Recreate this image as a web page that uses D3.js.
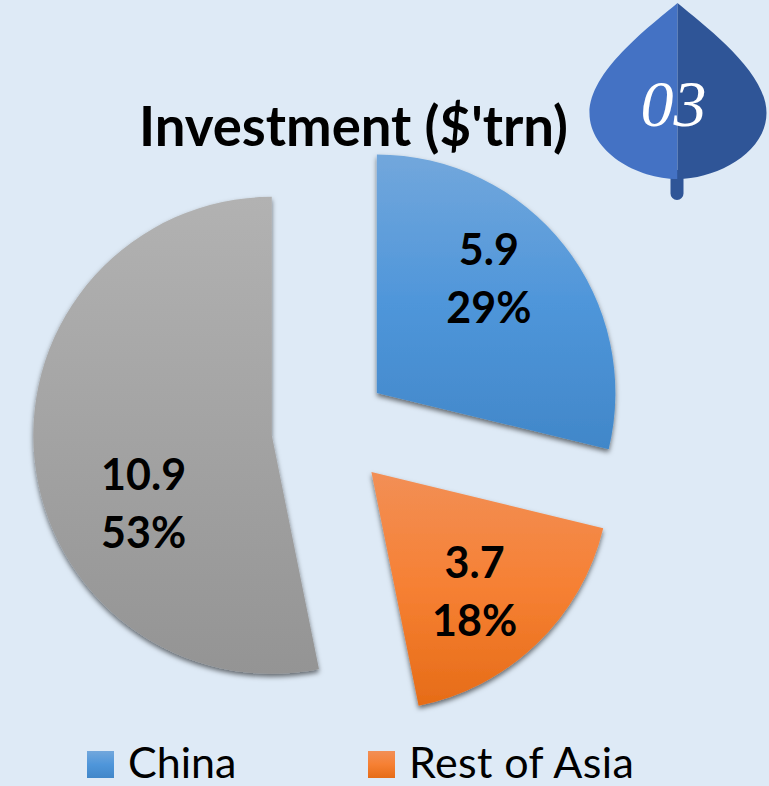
<!DOCTYPE html>
<html>
<head>
<meta charset="utf-8">
<script src="https://cdn.jsdelivr.net/npm/d3@7"></script>
<style>
    html, body { margin: 0; padding: 0; background: #deeaf6; }
    svg { display: block; }
    text { font-family: Lato, "Open Sans", sans-serif; fill: #000; }
</style>
</head>
<body>
<div id="chart"></div>
<script>
// Values
const categories = ["China", "Rest of Asia", "Other"];
const investment = [5.9, 3.7, 10.9];
const shares = ["29%", "18%", "53%"];
const legendCategories = ["China", "Rest of Asia"];
const chartTitle = "Investment ($'trn)";
const badgeLabel = "03";

const width = 769, height = 786;
const center = { x: 330.5, y: 429.5 };
const radius = 238.5;
const explode = 59;

// top, middle and bottom colour of each slice
const gradients = {
    "China": ["#72a7dc", "#4f96da", "#4187c9"],
    "Rest of Asia": ["#f28f56", "#f68033", "#e66c17"],
    "Other": ["#b2b2b2", "#a3a3a3", "#949494"]
};

// Labels don't sit exactly on the centroid in the original
const labelNudge = {
    "China": [-13, -15],
    "Rest of Asia": [-7, 6],
    "Other": [30, 54]
};

const svg = d3.select("#chart").append("svg")
    .attr("width", width)
    .attr("height", height);

const defs = svg.append("defs");

categories.forEach((name, i) => {
    const grad = defs.append("linearGradient")
        .attr("id", "grad" + i)
        .attr("x1", 0).attr("y1", 0)
        .attr("x2", 0).attr("y2", 1);
    gradients[name].forEach((c, j) => {
        grad.append("stop").attr("offset", j / 2).attr("stop-color", c);
    });
});

const shadow = defs.append("filter")
    .attr("id", "shadow")
    .attr("x", "-10%").attr("y", "-10%")
    .attr("width", "120%").attr("height", "120%");
shadow.append("feDropShadow")
    .attr("dx", 0)
    .attr("dy", 3)
    .attr("stdDeviation", 2.5)
    .attr("flood-color", "#000")
    .attr("flood-opacity", 0.55);

// Pie
const pie = d3.pie().sort(null).value((d, i) => investment[i]);
const arc = d3.arc().innerRadius(0).outerRadius(radius);
const labelArc = d3.arc().innerRadius(0).outerRadius(318);

const slices = svg.append("g")
    .attr("transform", `translate(${center.x},${center.y})`)
    .selectAll("g")
    .data(pie(categories))
    .enter()
    .append("g")
    .attr("transform", d => {
        const mid = (d.startAngle + d.endAngle) / 2;
        return `translate(${explode * Math.sin(mid)},${-explode * Math.cos(mid)})`;
    });

slices.append("path")
    .attr("d", arc)
    .attr("fill", (d, i) => `url(#grad${i})`)
    .attr("filter", "url(#shadow)");

// Two line data labels
const labels = slices.append("text")
    .attr("text-anchor", "middle")
    .attr("font-size", 43)
    .attr("font-weight", 700)
    .attr("transform", d => {
        const [x, y] = labelArc.centroid(d);
        const [nx, ny] = labelNudge[d.data];
        return `translate(${x + nx},${y + ny})`;
    });
labels.append("tspan")
    .attr("x", 0).attr("y", -15)
    .text((d, i) => investment[i]);
labels.append("tspan")
    .attr("x", 0).attr("y", 43)
    .text((d, i) => shares[i]);

// Title
svg.append("text")
    .attr("x", 353.5)
    .attr("y", 146)
    .attr("text-anchor", "middle")
    .attr("font-size", 54.5)
    .attr("font-weight", 700)
    .text(chartTitle);

// Legend
const legendX = d3.scalePoint()
    .domain(legendCategories)
    .range([87, 368]);

const legend = svg.append("g")
    .selectAll("g")
    .data(legendCategories)
    .enter()
    .append("g")
    .attr("transform", d => `translate(${legendX(d)},751)`);

legend.append("rect")
    .attr("width", 27)
    .attr("height", 27)
    .attr("fill", d => `url(#grad${categories.indexOf(d)})`);

legend.append("text")
    .attr("x", 41)
    .attr("y", 27)
    .attr("font-size", 43)
    .attr("letter-spacing", d => d === "China" ? 0 : 0.4)
    .text(d => d);

// Leaf badge top right
const badge = svg.append("g").attr("transform", "translate(677.5,0)");

badge.append("path")
    .attr("d", "M-7,170V193.5A6.5,6.5 0 0 0 6,193.5V170Z")
    .attr("fill", "#2f5597");
badge.append("path")
    .attr("d", "M0,3C-30,28 -88,72 -88,113C-88,152 -40,179 0,179Z")
    .attr("fill", "#4472c4");
badge.append("path")
    .attr("d", "M0,3C30,28 89,72 89,113C89,152 40,179 0,179Z")
    .attr("fill", "#2f5597");
badge.append("text")
    .attr("x", -4)
    .attr("y", 126)
    .attr("text-anchor", "middle")
    .attr("font-size", 66)
    .attr("font-style", "italic")
    .style("font-family", "'Liberation Serif', serif")
    .style("fill", "#fff")
    .text(badgeLabel);
</script>
</body>
</html>
